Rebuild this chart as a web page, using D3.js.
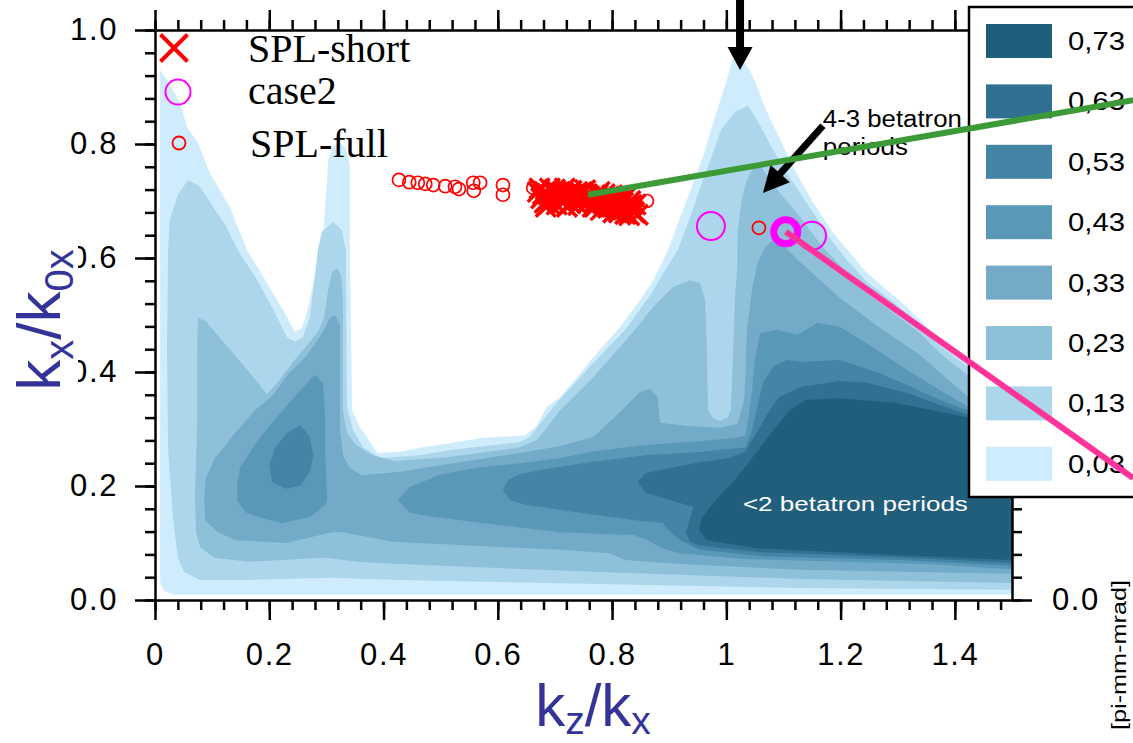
<!DOCTYPE html>
<html>
<head>
<meta charset="utf-8">
<script src="https://cdn.jsdelivr.net/npm/d3@7"></script>
<style>
  body { margin: 0; background: #fff; }
  svg { display: block; }
</style>
</head>
<body>
<svg id="chart" width="1133" height="743"></svg>
<script>
// ---- emittance contour levels (pi-mm-mrad) ----
const levelValues = [0.03, 0.13, 0.23, 0.33, 0.43, 0.53, 0.63, 0.73];
const levelLabels = ["0,03", "0,13", "0,23", "0,33", "0,43", "0,53", "0,63", "0,73"];
const levelColors = ["#ceecfb", "#acd6eb", "#8fc0d9", "#73aac8", "#5a98b8", "#4485a6", "#307091", "#215e7c"];

// filled region boundaries for each level, points are [kz/kx, kx/k0x]
const band003 = [[
  [0.035,0.009],[0.016,0.016],[0.009,0.030],[0.009,0.526],[0.009,0.930],[0.026,0.904],[0.044,0.872],[0.056,0.830],
  [0.075,0.802],[0.096,0.749],[0.131,0.689],[0.161,0.614],[0.196,0.556],[0.224,0.509],[0.245,0.470],[0.257,0.477],
  [0.268,0.512],[0.280,0.570],[0.292,0.614],[0.299,0.702],[0.303,0.772],[0.312,0.795],[0.324,0.802],[0.334,0.793],
  [0.341,0.763],[0.341,0.614],[0.345,0.333],[0.359,0.302],[0.371,0.286],[0.389,0.258],[0.429,0.260],[0.464,0.267],
  [0.516,0.275],[0.571,0.284],[0.648,0.289],[0.667,0.304],[0.686,0.339],[0.709,0.356],[0.735,0.386],[0.767,0.426],
  [0.814,0.479],[0.849,0.526],[0.872,0.561],[0.898,0.614],[0.931,0.702],[0.959,0.777],[0.984,0.860],[1.001,0.912],
  [1.010,0.947],[1.024,0.953],[1.041,0.930],[1.054,0.900],[1.064,0.872],[1.089,0.819],[1.117,0.760],[1.146,0.707],
  [1.187,0.644],[1.216,0.609],[1.246,0.574],[1.281,0.544],[1.316,0.514],[1.362,0.468],[1.409,0.426],[1.500,0.365],
  [1.500,0.009]
]];
const band013 = [[
  [0.079,0.035],[0.051,0.049],[0.040,0.074],[0.032,0.140],[0.023,0.263],[0.021,0.439],[0.023,0.614],[0.026,0.667],
  [0.040,0.711],[0.058,0.737],[0.079,0.725],[0.102,0.689],[0.123,0.658],[0.145,0.614],[0.179,0.561],[0.207,0.509],
  [0.231,0.461],[0.245,0.453],[0.259,0.461],[0.271,0.496],[0.277,0.544],[0.285,0.614],[0.292,0.646],[0.312,0.663],
  [0.327,0.649],[0.334,0.614],[0.336,0.339],[0.347,0.298],[0.364,0.268],[0.394,0.249],[0.464,0.254],[0.516,0.263],
  [0.639,0.277],[0.656,0.286],[0.697,0.339],[0.761,0.409],[0.823,0.474],[0.870,0.539],[0.893,0.579],[0.915,0.614],
  [0.938,0.675],[0.956,0.728],[0.973,0.775],[0.991,0.825],[1.015,0.856],[1.038,0.867],[1.059,0.833],[1.082,0.789],
  [1.103,0.754],[1.129,0.714],[1.155,0.675],[1.181,0.635],[1.208,0.600],[1.246,0.558],[1.292,0.523],[1.339,0.482],
  [1.377,0.444],[1.500,0.351],[1.500,0.018],[1.129,0.021],[0.779,0.028],[0.429,0.035],[0.306,0.039],[0.149,0.035]
]];
const band023 = [[
  [0.075,0.495],[0.089,0.489],[0.105,0.470],[0.137,0.433],[0.172,0.391],[0.196,0.361],[0.214,0.381],[0.242,0.418],
  [0.266,0.447],[0.285,0.470],[0.296,0.495],[0.303,0.544],[0.310,0.575],[0.319,0.582],[0.326,0.568],[0.329,0.526],
  [0.329,0.333],[0.336,0.293],[0.352,0.272],[0.380,0.254],[0.420,0.244],[0.516,0.251],[0.639,0.268],[0.669,0.281],
  [0.709,0.333],[0.767,0.391],[0.814,0.444],[0.844,0.479],[0.872,0.514],[0.907,0.549],[0.936,0.561],[0.954,0.556],
  [0.963,0.526],[0.966,0.439],[0.968,0.333],[0.977,0.319],[0.989,0.314],[1.003,0.321],[1.008,0.333],[1.012,0.439],
  [1.015,0.526],[1.019,0.584],[1.020,0.649],[1.027,0.702],[1.036,0.737],[1.047,0.758],[1.059,0.763],[1.076,0.737],
  [1.094,0.714],[1.129,0.672],[1.169,0.619],[1.211,0.574],[1.246,0.539],[1.292,0.504],[1.339,0.468],[1.374,0.433],
  [1.500,0.333],[1.500,0.030],[1.129,0.037],[0.779,0.049],[0.429,0.063],[0.354,0.067],[0.298,0.074],[0.166,0.067],
  [0.103,0.074],[0.079,0.093],[0.072,0.118],[0.070,0.175],[0.074,0.321],[0.074,0.439]
]];
const band033 = [[
  [0.088,0.140],[0.086,0.175],[0.089,0.214],[0.105,0.249],[0.140,0.293],[0.175,0.333],[0.205,0.358],[0.236,0.400],
  [0.263,0.426],[0.285,0.456],[0.298,0.477],[0.306,0.495],[0.315,0.500],[0.324,0.482],[0.324,0.298],[0.329,0.254],
  [0.341,0.232],[0.362,0.219],[0.429,0.225],[0.516,0.239],[0.639,0.258],[0.709,0.270],[0.767,0.286],[0.814,0.330],
  [0.849,0.365],[0.866,0.370],[0.880,0.356],[0.884,0.311],[0.936,0.305],[0.989,0.302],[1.020,0.309],[1.031,0.351],
  [1.033,0.381],[1.036,0.474],[1.045,0.544],[1.055,0.593],[1.068,0.619],[1.082,0.632],[1.099,0.623],[1.129,0.593],
  [1.199,0.530],[1.269,0.477],[1.339,0.430],[1.423,0.356],[1.500,0.330],[1.500,0.046],[1.129,0.053],[0.919,0.063],
  [0.823,0.070],[0.796,0.082],[0.709,0.088],[0.417,0.102],[0.329,0.119],[0.310,0.119],[0.229,0.100],[0.142,0.105],
  [0.110,0.119]
]];
const band043 = [
  [[0.280,0.395],[0.294,0.381],[0.298,0.321],[0.298,0.263],[0.301,0.175],[0.298,0.167],[0.273,0.146],[0.222,0.135],
   [0.179,0.146],[0.158,0.154],[0.144,0.175],[0.144,0.205],[0.149,0.233],[0.184,0.286],[0.224,0.333],[0.254,0.368]],
  [[0.425,0.175],[0.445,0.198],[0.502,0.221],[0.571,0.233],[0.639,0.240],[0.709,0.249],[0.763,0.260],[0.859,0.272],
   [0.957,0.279],[1.015,0.284],[1.033,0.288],[1.038,0.316],[1.045,0.368],[1.050,0.421],[1.059,0.468],[1.090,0.474],
   [1.125,0.465],[1.159,0.486],[1.199,0.479],[1.251,0.447],[1.316,0.404],[1.374,0.368],[1.423,0.339],[1.500,0.323],
   [1.500,0.054],[1.348,0.063],[1.029,0.072],[0.919,0.082],[0.887,0.091],[0.863,0.105],[0.837,0.114],[0.709,0.119],
   [0.572,0.135],[0.481,0.147],[0.446,0.153]]
];
const band053 = [
  [[0.254,0.307],[0.271,0.286],[0.277,0.254],[0.271,0.225],[0.254,0.200],[0.228,0.195],[0.205,0.207],[0.200,0.237],
   [0.210,0.267],[0.231,0.293]],
  [[0.609,0.193],[0.618,0.211],[0.639,0.221],[0.686,0.230],[0.763,0.242],[0.859,0.254],[0.957,0.260],[1.034,0.268],
   [1.045,0.298],[1.055,0.342],[1.064,0.381],[1.082,0.409],[1.106,0.421],[1.134,0.418],[1.199,0.421],[1.269,0.398],
   [1.316,0.377],[1.374,0.351],[1.423,0.332],[1.500,0.318],[1.500,0.060],[1.304,0.070],[1.059,0.077],[0.954,0.088],
   [0.919,0.105],[0.898,0.123],[0.889,0.135],[0.840,0.140],[0.744,0.153],[0.648,0.167],[0.621,0.175]]
];
const band063 = [[
  [0.845,0.207],[0.859,0.223],[0.908,0.233],[0.957,0.242],[1.005,0.249],[1.033,0.260],[1.054,0.295],[1.076,0.333],
  [1.092,0.356],[1.131,0.374],[1.199,0.384],[1.246,0.381],[1.316,0.363],[1.374,0.342],[1.423,0.325],[1.500,0.314],
  [1.500,0.065],[1.304,0.075],[1.059,0.084],[0.954,0.095],[0.936,0.102],[0.929,0.119],[0.936,0.140],[0.942,0.163],
  [0.919,0.170],[0.859,0.188]
]];
const band073 = [[
  [0.952,0.123],[0.957,0.144],[0.977,0.170],[1.015,0.211],[1.043,0.246],[1.082,0.298],[1.111,0.333],[1.139,0.351],
  [1.197,0.354],[1.295,0.346],[1.419,0.321],[1.500,0.311],[1.500,0.070],[1.246,0.081],[1.054,0.091],[0.966,0.105]
]];
const levelBands = [band003, band013, band023, band033, band043, band053, band063, band073];

// ---- measured working points ----
const splShortKz = [0.670,0.676,0.682,0.688,0.694,0.700,0.703,0.708,0.713,0.716,0.721,0.725,0.729,0.733,0.737,0.741,
  0.745,0.749,0.753,0.757,0.684,0.697,0.711,0.719,0.739,0.673,0.679,0.691,0.705,0.717,0.727,0.735,0.744,0.752,0.690,
  0.762,0.766,0.771,0.775,0.780,0.784,0.789,0.793,0.797,0.802,0.806,0.810,0.815,0.819,0.823,0.828,0.832,0.836,0.841,
  0.845,0.778,0.800,0.825,0.770,0.787,0.795,0.808,0.814,0.821,0.834,0.839,0.830,0.812];
const splShortKx = [0.716,0.705,0.697,0.712,0.702,0.720,0.694,0.708,0.716,0.699,0.690,0.710,0.718,0.700,0.707,0.693,
  0.714,0.702,0.719,0.697,0.690,0.714,0.700,0.711,0.716,0.722,0.712,0.722,0.715,0.722,0.696,0.712,0.700,0.708,0.695,
  0.706,0.690,0.699,0.711,0.684,0.696,0.705,0.688,0.699,0.680,0.694,0.704,0.686,0.697,0.677,0.691,0.700,0.683,0.694,
  0.676,0.716,0.710,0.708,0.690,0.712,0.693,0.690,0.700,0.685,0.693,0.680,0.675,0.680];
const splFullKz = [0.427,0.445,0.460,0.473,0.487,0.508,0.525,0.532,0.557,0.569,0.558,0.609,0.609,0.662,0.861,1.057];
const splFullKx = [0.737,0.733,0.732,0.730,0.728,0.726,0.725,0.721,0.732,0.732,0.718,0.728,0.711,0.723,0.700,0.653];
const case2Kz = [0.973, 1.150, 1.104];
const case2Kx = [0.656, 0.639, 0.646];
const case2Highlight = [false, false, true];

// connector lines leading to the neighbouring panels
const greenLink = [[0.758, 0.711], [1.712, 0.877]];
const pinkLink = [[1.104, 0.646], [1.712, 0.214]];
// annotation arrows [from, to]
const arrowTop = [[1.024, 1.053], [1.024, 0.930]];
const arrowMid = [[1.169, 0.832], [1.064, 0.714]];

// axis ticks
const xTickValues = [0, 0.2, 0.4, 0.6, 0.8, 1.0, 1.2, 1.4];
const xTickLabels = ["0", "0.2", "0.4", "0.6", "0.8", "1", "1.2", "1.4"];
const yTickValues = [0, 0.2, 0.4, 0.6, 0.8, 1.0];
const yTickLabels = ["0.0", "0.2", "0.4", "0.6", "0.8", "1.0"];
const rightTickValues = [0];
const rightTickLabels = ["0.0"];
const xMinorTicks = d3.range(0, 1.4801, 0.04);
const yMinorTicks = d3.range(0, 1.0001, 0.04);

// ---- scales ----
const x = d3.scaleLinear().domain([0, 1.5]).range([155, 1012]);
const y = d3.scaleLinear().domain([0, 1]).range([600, 30]);

const svg = d3.select("#chart");
const SANS = "'Liberation Sans', Arial, Helvetica, sans-serif";
const SERIF = "'Liberation Serif', 'Times New Roman', serif";

// ---- filled contours ----
const gFill = svg.append("g");
const ring = d3.line().x(d => x(d[0])).y(d => y(d[1])).curve(d3.curveLinearClosed);
levelBands.forEach((polys, i) => {
  polys.forEach(poly => {
    gFill.append("path").attr("d", ring(poly)).attr("fill", levelColors[i]);
  });
});

// ---- axes ----
function styleAxis(g) {
  g.selectAll("path.domain").attr("stroke", "#000").attr("stroke-width", 2.5);
  g.selectAll(".tick line").attr("stroke", "#000").attr("stroke-width", 2.5);
  g.selectAll(".tick text").attr("fill", "#000").attr("font-family", SANS)
    .attr("font-size", 31).attr("letter-spacing", 1.6);
}
function minor(g) {
  g.select("path.domain").remove();
  g.selectAll(".tick line").attr("stroke", "#000").attr("stroke-width", 2.5);
}
const fmtX = d => xTickLabels[xTickValues.indexOf(d)];
const fmtY = d => yTickLabels[yTickValues.indexOf(d)];
const fmtR = d => rightTickLabels[rightTickValues.indexOf(d)] || "";

svg.append("g").attr("transform", "translate(0,600)")
  .call(d3.axisBottom(x).tickValues(xMinorTicks).tickSize(10).tickFormat("").tickSizeOuter(0)).call(minor);
svg.append("g").attr("transform", "translate(0,30)")
  .call(d3.axisTop(x).tickValues(xMinorTicks).tickSize(10).tickFormat("").tickSizeOuter(0)).call(minor);
svg.append("g").attr("transform", "translate(155,0)")
  .call(d3.axisLeft(y).tickValues(yMinorTicks).tickSize(10).tickFormat("").tickSizeOuter(0)).call(minor);
svg.append("g").attr("transform", "translate(1012,0)")
  .call(d3.axisRight(y).tickValues(yMinorTicks).tickSize(10).tickFormat("").tickSizeOuter(0)).call(minor);

svg.append("g").attr("transform", "translate(0,600)")
  .call(d3.axisBottom(x).tickValues(xTickValues).tickFormat(fmtX).tickSize(20).tickPadding(23).tickSizeOuter(0))
  .call(styleAxis);
svg.append("g").attr("transform", "translate(0,30)")
  .call(d3.axisTop(x).tickValues(xTickValues).tickFormat("").tickSize(20).tickSizeOuter(0))
  .call(styleAxis);
svg.append("g").attr("transform", "translate(155,0)")
  .call(d3.axisLeft(y).tickValues(yTickValues).tickFormat(fmtY).tickSize(20).tickPadding(17).tickSizeOuter(0))
  .call(styleAxis);
svg.append("g").attr("transform", "translate(1012,0)")
  .call(d3.axisRight(y).tickValues(yTickValues).tickFormat(fmtR).tickSize(20).tickPadding(20).tickSizeOuter(0))
  .call(styleAxis);

// ---- axis titles ----
const TITLE_BLUE = "#33339a";
svg.append("rect").attr("x", 2).attr("y", 236).attr("width", 76).attr("height", 170).attr("fill", "#fff");
const yTitle = svg.append("text")
  .attr("transform", "translate(60,320) rotate(-90)")
  .attr("text-anchor", "middle").attr("font-family", SANS).attr("fill", TITLE_BLUE).attr("font-size", 62);
yTitle.append("tspan").text("k");
yTitle.append("tspan").attr("font-size", 40).attr("dy", 13).text("x");
yTitle.append("tspan").attr("dy", -13).text("/k");
yTitle.append("tspan").attr("font-size", 40).attr("dy", 13).text("0x");

const xTitle = svg.append("text")
  .attr("x", 593).attr("y", 726)
  .attr("text-anchor", "middle").attr("font-family", SANS).attr("fill", TITLE_BLUE).attr("font-size", 60);
xTitle.append("tspan").text("k");
xTitle.append("tspan").attr("font-size", 39).attr("dy", 8).text("z");
xTitle.append("tspan").attr("dy", -8).text("/k");
xTitle.append("tspan").attr("font-size", 39).attr("dy", 8).text("x");

svg.append("text")
  .attr("transform", "translate(1126,655) rotate(-90)")
  .attr("text-anchor", "middle").attr("font-family", SANS).attr("font-size", 21)
  .attr("textLength", 150).attr("lengthAdjust", "spacingAndGlyphs")
  .text("[pi-mm-mrad]");

// ---- annotation text ----
svg.append("text").attr("x", x(1.029)).attr("y", y(0.156))
  .attr("font-family", SANS).attr("font-size", 21).attr("fill", "#fff")
  .attr("textLength", 225).attr("lengthAdjust", "spacingAndGlyphs")
  .text("<2 betatron periods");
svg.append("text").attr("x", x(1.169)).attr("y", y(0.830))
  .attr("font-family", SANS).attr("font-size", 23).attr("fill", "#000")
  .attr("textLength", 139).attr("lengthAdjust", "spacingAndGlyphs")
  .text("4-3 betatron");
svg.append("text").attr("x", x(1.169)).attr("y", y(0.781))
  .attr("font-family", SANS).attr("font-size", 23).attr("fill", "#000")
  .attr("textLength", 85).attr("lengthAdjust", "spacingAndGlyphs")
  .text("periods");

// ---- data markers ----
const gMarks = svg.append("g");
splFullKz.forEach((kz, i) => {
  gMarks.append("circle").attr("cx", x(kz)).attr("cy", y(splFullKx[i])).attr("r", 6.5)
    .attr("fill", "none").attr("stroke", "#ff0000").attr("stroke-width", 1.7);
});
const cross = h => `M${-h},${-h}L${h},${h}M${-h},${h}L${h},${-h}`;
splShortKz.forEach((kz, i) => {
  gMarks.append("path").attr("d", cross(10))
    .attr("transform", `translate(${x(kz)},${y(splShortKx[i])})`)
    .attr("fill", "none").attr("stroke", "#ff0000").attr("stroke-width", 3.5);
});
case2Kz.forEach((kz, i) => {
  const hi = case2Highlight[i];
  gMarks.append("circle").attr("cx", x(kz)).attr("cy", y(case2Kx[i])).attr("r", hi ? 12 : 14)
    .attr("fill", "none").attr("stroke", "#ff00ff").attr("stroke-width", hi ? 7 : 2);
});

// ---- marker legend ----
const gLeg = svg.append("g");
gLeg.append("path").attr("d", cross(13.5)).attr("transform", "translate(174,48)")
  .attr("fill", "none").attr("stroke", "#ff0000").attr("stroke-width", 4);
gLeg.append("circle").attr("cx", 178).attr("cy", 92).attr("r", 12.5)
  .attr("fill", "none").attr("stroke", "#ff00ff").attr("stroke-width", 2);
gLeg.append("circle").attr("cx", 179).attr("cy", 143).attr("r", 6.5)
  .attr("fill", "none").attr("stroke", "#ff0000").attr("stroke-width", 1.8);
[["SPL-short", 248, 62], ["case2", 248, 104], ["SPL-full", 250, 157]].forEach(([t, tx, ty]) => {
  gLeg.append("text").attr("x", tx).attr("y", ty).attr("font-family", SERIF).attr("font-size", 40)
    .attr("fill", "#000").text(t);
});

// ---- colour legend ----
const gKey = svg.append("g");
gKey.append("rect").attr("x", 969).attr("y", 7).attr("width", 200).attr("height", 490)
  .attr("fill", "#fff").attr("stroke", "#000").attr("stroke-width", 2.5);
const keyOrder = d3.range(levelValues.length).reverse();
keyOrder.forEach((li, row) => {
  const top = 24 + row * 60.4;
  gKey.append("rect").attr("x", 986).attr("y", top).attr("width", 66).attr("height", 34)
    .attr("fill", levelColors[li]);
  gKey.append("text").attr("x", 1068).attr("y", top + 17).attr("dy", "0.36em")
    .attr("font-family", SANS).attr("font-size", 25).attr("fill", "#000")
    .attr("textLength", 57).attr("lengthAdjust", "spacingAndGlyphs")
    .text(levelLabels[li]);
});

// ---- arrows ----
function arrowPoints(p1, p2, sw, hl, hw) {
  const x1 = x(p1[0]), y1 = y(p1[1]), x2 = x(p2[0]), y2 = y(p2[1]);
  const dx = x2 - x1, dy = y2 - y1, len = Math.hypot(dx, dy);
  const ux = dx / len, uy = dy / len, nx = -uy, ny = ux;
  const bx = x2 - ux * hl, by = y2 - uy * hl;
  return [
    [x1 + nx * sw / 2, y1 + ny * sw / 2], [bx + nx * sw / 2, by + ny * sw / 2], [bx + nx * hw / 2, by + ny * hw / 2],
    [x2, y2],
    [bx - nx * hw / 2, by - ny * hw / 2], [bx - nx * sw / 2, by - ny * sw / 2], [x1 - nx * sw / 2, y1 - ny * sw / 2]
  ];
}
svg.append("polygon").attr("points", arrowPoints(arrowTop[0], arrowTop[1], 8, 23, 25).join(" ")).attr("fill", "#000");
svg.append("polygon").attr("points", arrowPoints(arrowMid[0], arrowMid[1], 7, 26, 26).join(" ")).attr("fill", "#000");

// ---- connector lines ----
const seg = d3.line().x(d => x(d[0])).y(d => y(d[1]));
svg.append("path").attr("d", seg(greenLink)).attr("stroke", "#3c9a37").attr("stroke-width", 6).attr("fill", "none");
svg.append("path").attr("d", seg(pinkLink)).attr("stroke", "#ff3399").attr("stroke-width", 6).attr("fill", "none");
</script>
</body>
</html>
